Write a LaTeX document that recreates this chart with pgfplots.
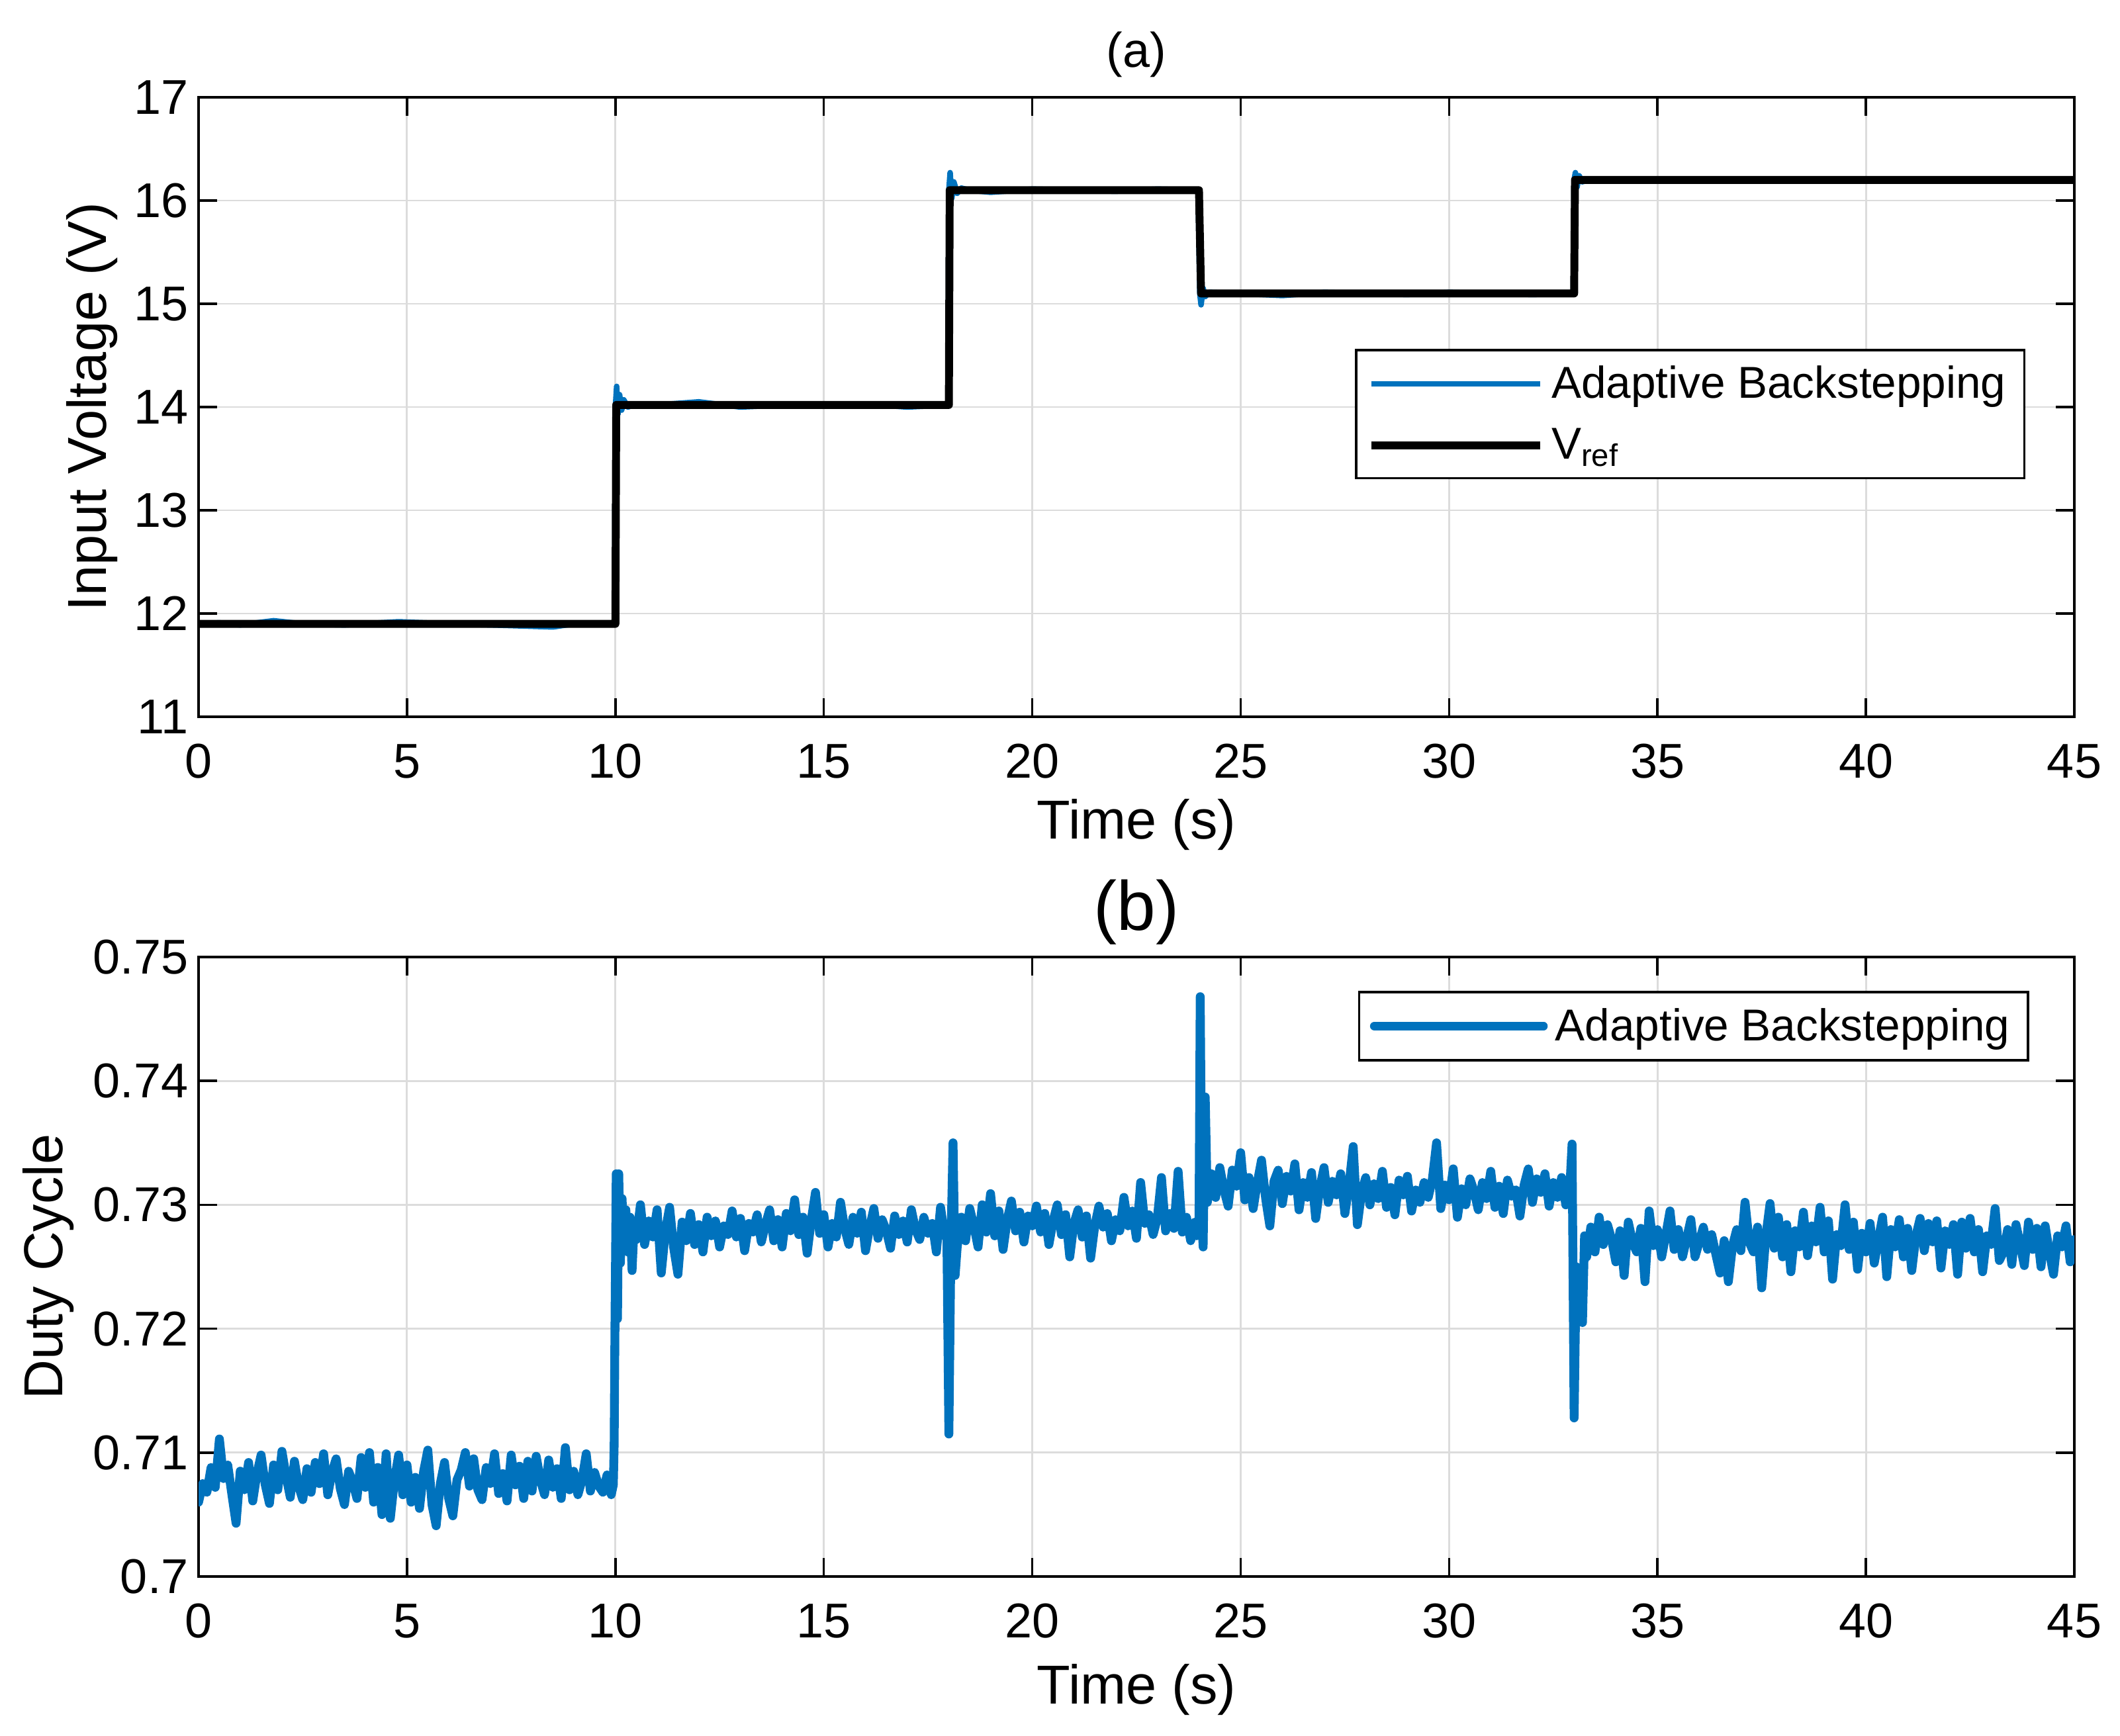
\documentclass[border=0pt]{standalone}
\usepackage{fontspec}
\setmainfont{Liberation Sans}
\usepackage{pgfplots}
\pgfplotsset{compat=1.18}
\definecolor{mblue}{RGB}{0,114,189}
\definecolor{gridc}{RGB}{220,220,220}
\pgfplotsset{
  myaxis/.style={
    scale only axis, width=28.34cm, height=9.36cm,
    xmin=0, xmax=45, xtick={0,5,10,15,20,25,30,35,40,45},
    tick align=inside, tick pos=both,
    major tick length=0.28cm,
    grid=major, major grid style={gridc, line width=0.8pt},
    axis line style={line width=1pt},
    tick style={black, line width=1pt},
    scaled ticks=false,
    /pgf/number format/assume math mode=true,
    tick label style={font=\fontsize{21}{25}\selectfont},
    label style={font=\fontsize{23.6}{28}\selectfont},
    xticklabel style={yshift=-0.29cm},
    yticklabel style={xshift=-0.03cm},
    xlabel={Time (s)},
    legend cell align=left,
    legend image code/.code={\path (-0.1cm,0cm) -- (2.45cm,0cm);\draw[##1] (0cm,0cm) -- (2.45cm,0cm);},
    legend style={draw=black, line width=1pt, fill=white,
      font=\fontsize{19.2}{23}\selectfont,
      inner xsep=0.165cm, column sep=0pt,
      nodes={inner xsep=0.115cm, inner ysep=0.1cm}},
  }
}
\begin{document}
\begin{tikzpicture}
\path[use as bounding box] (0,0) rectangle (32.03,26.23);
% ---------------- (a) ----------------
\begin{axis}[myaxis, at={(3.00cm,15.40cm)}, anchor=south west,
  ymin=11, ymax=17, ytick={11,12,13,14,15,16,17},
  ylabel={Input Voltage (V)},
  xlabel style={at={(axis description cs:0.5,-0.174)}, anchor=center},
  ylabel style={at={(axis description cs:-0.0568,0.5)}, anchor=center},
  title={(a)},
  title style={at={(axis description cs:0.5,1.0465)}, anchor=center, font=\fontsize{21}{25}\selectfont},
  legend style={at={(0.974,0.594)}, anchor=north east, inner ysep=0.14cm, row sep=0.2cm},
]
\addplot[mblue, line width=2.4pt, line join=round] coordinates {
(0,11.90) (0.5,11.91) (1,11.89) (1.8,11.93) (2.5,11.90) (3.5,11.89) (4.8,11.92) (6,11.90) (7,11.89) (8.5,11.87) (9,11.90) (9.98,11.90)
(10.0,14.00) (10.03,14.20) (10.06,13.93) (10.10,14.12) (10.15,13.97) (10.20,14.07) (10.30,14.00) (10.5,14.03) (11,14.02) (12,14.05) (13,14.00) (14,14.02) (15,14.01) (16,14.03) (17,14.00) (17.98,14.02)
(18.0,16.10) (18.03,16.27) (18.07,16.02) (18.12,16.18) (18.20,16.07) (18.30,16.12) (18.5,16.10) (19,16.08) (20,16.11) (21,16.10) (22,16.09) (23,16.11) (23.98,16.10)
(24.02,15.10) (24.05,14.99) (24.10,15.15) (24.15,15.07) (24.25,15.11) (25,15.10) (26,15.08) (27,15.11) (28,15.10) (29,15.09) (30,15.11) (31,15.10) (32,15.09) (32.98,15.10)
(33.0,16.20) (33.03,16.27) (33.07,16.13) (33.12,16.24) (33.20,16.18) (33.30,16.21) (34,16.20) (36,16.21) (38,16.20) (40,16.19) (42,16.21) (45,16.20)
};
\addlegendentry{Adaptive Backstepping}
\addplot[black, line width=3.4pt, line join=round] coordinates {
(0,11.90) (10,11.90) (10.02,14.02) (18,14.02) (18.02,16.10) (24,16.10) (24.05,15.10) (33,15.10) (33.02,16.20) (45,16.20)
};
\addlegendentry{V\textsubscript{ref}}
\end{axis}
% ---------------- (b) ----------------
\begin{axis}[myaxis, at={(3.00cm,2.41cm)}, anchor=south west,
  ymin=0.70, ymax=0.75, ytick={0.7,0.71,0.72,0.73,0.74,0.75},
  ylabel={Duty Cycle},
  xlabel style={at={(axis description cs:0.5,-0.183)}, anchor=center},
  ylabel style={at={(axis description cs:-0.080,0.5)}, anchor=center},
  title={(b)},
  title style={at={(axis description cs:0.5,1.0495)}, anchor=center, font=\fontsize{30}{34}\selectfont},
  legend style={at={(0.976,0.9455)}, anchor=north east, inner ysep=0.145cm},
]
\addplot[mblue, line width=3.8pt, line join=round, line cap=round] coordinates {
(0.0,0.7060) (0.1,0.7075) (0.2,0.7068) (0.3,0.7088) (0.4,0.7072) (0.5,0.7111) (0.6,0.7079) (0.7,0.7090) (0.8,0.7066) (0.9,0.7043)
(1.0,0.7085) (1.1,0.7070) (1.2,0.7092) (1.3,0.7061) (1.4,0.7083) (1.5,0.7098) (1.6,0.7074) (1.7,0.7059) (1.8,0.7090) (1.9,0.7070)
(2.0,0.7101) (2.1,0.7081) (2.2,0.7064) (2.3,0.7093) (2.4,0.7073) (2.5,0.7062) (2.6,0.7087) (2.7,0.7068) (2.8,0.7092) (2.9,0.7075)
(3.0,0.7099) (3.1,0.7066) (3.2,0.7084) (3.3,0.7095) (3.4,0.7071) (3.5,0.7058) (3.6,0.7085) (3.7,0.7076) (3.8,0.7063) (3.9,0.7096)
(4.0,0.7072) (4.1,0.7100) (4.2,0.7060) (4.3,0.7088) (4.4,0.7050) (4.5,0.7099) (4.6,0.7047) (4.7,0.7078) (4.8,0.7098) (4.9,0.7066)
(5.0,0.7090) (5.1,0.7060) (5.2,0.7080) (5.3,0.7055) (5.4,0.7085) (5.5,0.7102) (5.6,0.7058) (5.7,0.7041) (5.8,0.7075) (5.9,0.7092)
(6.0,0.7063) (6.1,0.7049) (6.2,0.7078) (6.3,0.7086) (6.4,0.7100) (6.5,0.7073) (6.6,0.7095) (6.7,0.7070) (6.8,0.7062) (6.9,0.7088)
(7.0,0.7075) (7.1,0.7099) (7.2,0.7067) (7.3,0.7083) (7.4,0.7061) (7.5,0.7098) (7.6,0.7074) (7.7,0.7089) (7.8,0.7063) (7.9,0.7093)
(8.0,0.7069) (8.1,0.7097) (8.2,0.7078) (8.3,0.7066) (8.4,0.7094) (8.5,0.7072) (8.6,0.7087) (8.7,0.7063) (8.8,0.7104) (8.9,0.7070)
(9.0,0.7085) (9.1,0.7066) (9.2,0.7078) (9.3,0.7099) (9.4,0.7069) (9.5,0.7084) (9.6,0.7073) (9.7,0.7068) (9.8,0.7082) (9.9,0.7066)
(9.95,0.7074) (9.97,0.7106) (9.99,0.7204) (10.02,0.7325) (10.05,0.7208) (10.08,0.7325) (10.12,0.7253) (10.16,0.7305) (10.2,0.7270) (10.25,0.7296)
(10.3,0.7262) (10.35,0.7290) (10.4,0.7247) (10.45,0.7285) (10.5,0.7272) (10.6,0.7300) (10.7,0.7268) (10.8,0.7287) (10.9,0.7274)
(11.0,0.7296) (11.1,0.7245) (11.2,0.7279) (11.3,0.7298) (11.4,0.7265) (11.5,0.7244) (11.6,0.7286) (11.7,0.7271) (11.8,0.7293) (11.9,0.7268)
(12.0,0.7284) (12.1,0.7262) (12.2,0.7290) (12.3,0.7275) (12.4,0.7287) (12.5,0.7266) (12.6,0.7283) (12.7,0.7276) (12.8,0.7295) (12.9,0.7274)
(13.0,0.7289) (13.1,0.7263) (13.2,0.7285) (13.3,0.7278) (13.4,0.7292) (13.5,0.7270) (13.6,0.7284) (13.7,0.7296) (13.8,0.7271) (13.9,0.7288)
(14.0,0.7266) (14.1,0.7293) (14.2,0.7279) (14.3,0.7304) (14.4,0.7276) (14.5,0.7290) (14.6,0.7261) (14.7,0.7288) (14.8,0.7310) (14.9,0.7277)
(15.0,0.7292) (15.1,0.7266) (15.2,0.7285) (15.3,0.7274) (15.4,0.7302) (15.5,0.7281) (15.6,0.7268) (15.7,0.7290) (15.8,0.7277) (15.9,0.7294)
(16.0,0.7263) (16.1,0.7282) (16.2,0.7297) (16.3,0.7273) (16.4,0.7288) (16.5,0.7279) (16.6,0.7265) (16.7,0.7291) (16.8,0.7276) (16.9,0.7287)
(17.0,0.7270) (17.1,0.7296) (17.2,0.7280) (17.3,0.7272) (17.4,0.7290) (17.5,0.7277) (17.6,0.7285) (17.7,0.7262) (17.8,0.7298) (17.9,0.7275)
(17.95,0.7283) (18.0,0.7115) (18.05,0.7270) (18.1,0.7350) (18.15,0.7243) (18.2,0.7266) (18.3,0.7290) (18.4,0.7271) (18.5,0.7297) (18.6,0.7283)
(18.7,0.7266) (18.8,0.7300) (18.9,0.7278) (19.0,0.7309) (19.1,0.7275) (19.2,0.7295) (19.3,0.7264) (19.4,0.7288) (19.5,0.7303) (19.6,0.7279)
(19.7,0.7294) (19.8,0.7270) (19.9,0.7291) (20.0,0.7283) (20.1,0.7299) (20.2,0.7278) (20.3,0.7293) (20.4,0.7268) (20.5,0.7287) (20.6,0.7300)
(20.7,0.7276) (20.8,0.7292) (20.9,0.7258) (21.0,0.7285) (21.1,0.7296) (21.2,0.7274) (21.3,0.7291) (21.4,0.7257) (21.5,0.7283) (21.6,0.7299)
(21.7,0.7282) (21.8,0.7293) (21.9,0.7271) (22.0,0.7288) (22.1,0.7279) (22.2,0.7306) (22.3,0.7283) (22.4,0.7295) (22.5,0.7273) (22.6,0.7318)
(22.7,0.7285) (22.8,0.7292) (22.9,0.7276) (23.0,0.7289) (23.1,0.7322) (23.2,0.7279) (23.3,0.7293) (23.4,0.7281) (23.5,0.7327) (23.6,0.7278)
(23.7,0.7290) (23.8,0.7271) (23.9,0.7286) (23.95,0.7275) (24.0,0.7280) (24.03,0.7468) (24.07,0.7285) (24.1,0.7266) (24.15,0.7387) (24.2,0.7302)
(24.3,0.7325) (24.4,0.7306) (24.5,0.7330) (24.6,0.7312) (24.7,0.7299) (24.8,0.7328) (24.9,0.7315) (25.0,0.7342) (25.1,0.7304) (25.2,0.7322)
(25.3,0.7297) (25.4,0.7318) (25.5,0.7336) (25.6,0.7305) (25.7,0.7283) (25.8,0.7319) (25.9,0.7328) (26.0,0.7301) (26.1,0.7323) (26.2,0.7311)
(26.3,0.7333) (26.4,0.7296) (26.5,0.7318) (26.6,0.7306) (26.7,0.7326) (26.8,0.7289) (26.9,0.7314) (27.0,0.7330) (27.1,0.7302) (27.2,0.7319)
(27.3,0.7308) (27.4,0.7325) (27.5,0.7293) (27.6,0.7316) (27.7,0.7347) (27.8,0.7284) (27.9,0.7310) (28.0,0.7322) (28.1,0.7300) (28.2,0.7317)
(28.3,0.7305) (28.4,0.7327) (28.5,0.7298) (28.6,0.7314) (28.7,0.7292) (28.8,0.7320) (28.9,0.7308) (29.0,0.7323) (29.1,0.7295) (29.2,0.7312)
(29.3,0.7302) (29.4,0.7318) (29.5,0.7306) (29.6,0.7321) (29.7,0.7350) (29.8,0.7297) (29.9,0.7316) (30.0,0.7304) (30.1,0.7329) (30.2,0.7290)
(30.3,0.7313) (30.4,0.7300) (30.5,0.7321) (30.6,0.7311) (30.7,0.7296) (30.8,0.7318) (30.9,0.7305) (31.0,0.7327) (31.1,0.7298) (31.2,0.7315)
(31.3,0.7293) (31.4,0.7320) (31.5,0.7307) (31.6,0.7312) (31.7,0.7291) (31.8,0.7316) (31.9,0.7329) (32.0,0.7302) (32.1,0.7321) (32.2,0.7310)
(32.3,0.7325) (32.4,0.7299) (32.5,0.7318) (32.6,0.7306) (32.7,0.7322) (32.8,0.7300) (32.9,0.7316) (32.95,0.7349) (33.0,0.7128) (33.05,0.7250)
(33.1,0.7210) (33.15,0.7245) (33.2,0.7205) (33.25,0.7275) (33.3,0.7258) (33.4,0.7282) (33.5,0.7262) (33.6,0.7290) (33.7,0.7268) (33.8,0.7284)
(33.9,0.7272) (34.0,0.7254) (34.1,0.7279) (34.2,0.7243) (34.3,0.7286) (34.4,0.7270) (34.5,0.7262) (34.6,0.7281) (34.7,0.7238) (34.8,0.7295)
(34.9,0.7267) (35.0,0.7280) (35.1,0.7258) (35.2,0.7276) (35.3,0.7295) (35.4,0.7264) (35.5,0.7280) (35.6,0.7258) (35.7,0.7273) (35.8,0.7288)
(35.9,0.7258) (36.0,0.7270) (36.1,0.7282) (36.2,0.7264) (36.3,0.7276) (36.4,0.7260) (36.5,0.7245) (36.6,0.7271) (36.7,0.7238) (36.8,0.7267)
(36.9,0.7280) (37.0,0.7263) (37.1,0.7302) (37.2,0.7270) (37.3,0.7262) (37.4,0.7282) (37.5,0.7233) (37.6,0.7275) (37.7,0.7301) (37.8,0.7265)
(37.9,0.7290) (38.0,0.7258) (38.1,0.7284) (38.2,0.7246) (38.3,0.7279) (38.4,0.7266) (38.5,0.7294) (38.6,0.7259) (38.7,0.7283) (38.8,0.7270)
(38.9,0.7298) (39.0,0.7262) (39.1,0.7287) (39.2,0.7240) (39.3,0.7276) (39.4,0.7267) (39.5,0.7300) (39.6,0.7264) (39.7,0.7286) (39.8,0.7248)
(39.9,0.7277) (40.0,0.7262) (40.1,0.7285) (40.2,0.7253) (40.3,0.7272) (40.4,0.7290) (40.5,0.7242) (40.6,0.7280) (40.7,0.7266) (40.8,0.7288)
(40.9,0.7258) (41.0,0.7281) (41.1,0.7247) (41.2,0.7275) (41.3,0.7289) (41.4,0.7263) (41.5,0.7285) (41.6,0.7270) (41.7,0.7287) (41.8,0.7249)
(41.9,0.7279) (42.0,0.7268) (42.1,0.7284) (42.2,0.7244) (42.3,0.7286) (42.4,0.7265) (42.5,0.7289) (42.6,0.7262) (42.7,0.7280) (42.8,0.7246)
(42.9,0.7275) (43.0,0.7268) (43.1,0.7297) (43.2,0.7255) (43.3,0.7262) (43.4,0.7280) (43.5,0.7252) (43.6,0.7284) (43.7,0.7268) (43.8,0.7251)
(43.9,0.7286) (44.0,0.7264) (44.1,0.7281) (44.2,0.7250) (44.3,0.7283) (44.4,0.7262) (44.5,0.7244) (44.6,0.7275) (44.7,0.7266) (44.8,0.7283)
(44.9,0.7254) (45.0,0.7272)
};
\addlegendentry{Adaptive Backstepping}
\end{axis}
\end{tikzpicture}
\end{document}
